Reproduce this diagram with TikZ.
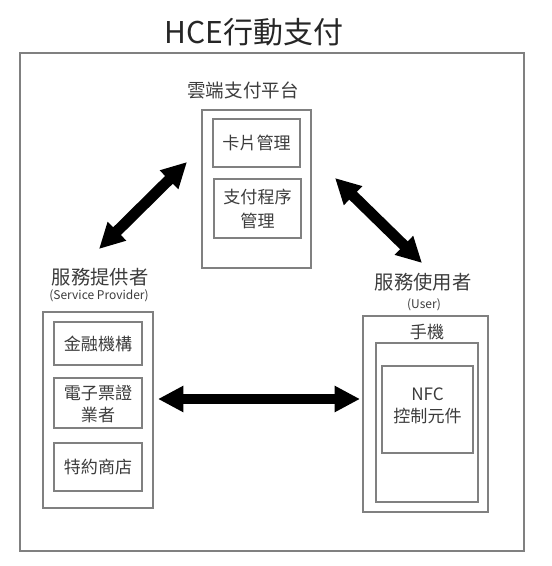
\documentclass[tikz,border=0pt]{standalone}
\usepackage{fontspec}
\setmainfont{Noto Sans CJK TC}
\usepackage{xcolor}
\usetikzlibrary{arrows.meta}

\definecolor{boxgray}{RGB}{128,128,128}
\definecolor{txtgray}{RGB}{60,60,60}

\tikzset{
  box/.style={draw=boxgray, line width=1.1pt},
  frame/.style={draw=boxgray, line width=1.5pt},
  lbl/.style={text=txtgray, align=center, inner sep=0pt, font=\fontsize{14.5}{17}\selectfont},
  sublbl/.style={text=txtgray, align=center, inner sep=0pt, font=\fontsize{9}{11}\selectfont},
  itm/.style={text=txtgray, align=center, inner sep=0pt, font=\fontsize{12.8}{17}\selectfont},
  bigarrow/.style={line width=8.2pt, {Triangle[length=19pt,width=18.5pt]}-{Triangle[length=19pt,width=18.5pt]}}
}

\begin{document}
\begin{tikzpicture}[x=0.75pt,y=0.75pt,yscale=-1,xscale=1]
\useasboundingbox (0,0) rectangle (551,566);

%Shape: Rectangle [frame]
\draw [frame] (20,53) -- (524,53) -- (524,551) -- (20,551) -- cycle ;
%Shape: Rectangle [cloud]
\draw [box] (202,110) -- (311,110) -- (311,268) -- (202,268) -- cycle ;
%Shape: Rectangle [card]
\draw [box] (213,119) -- (300,119) -- (300,167) -- (213,167) -- cycle ;
%Shape: Rectangle [payapp]
\draw [box] (214,179) -- (301,179) -- (301,238) -- (214,238) -- cycle ;
%Shape: Rectangle [provider]
\draw [box] (43,312) -- (153,312) -- (153,508) -- (43,508) -- cycle ;
%Shape: Rectangle [bank]
\draw [box] (54,322) -- (142,322) -- (142,365) -- (54,365) -- cycle ;
%Shape: Rectangle [ticket]
\draw [box] (54,378) -- (142,378) -- (142,428) -- (54,428) -- cycle ;
%Shape: Rectangle [shop]
\draw [box] (54,443) -- (142,443) -- (142,491) -- (54,491) -- cycle ;
%Shape: Rectangle [user]
\draw [box] (363,316) -- (488,316) -- (488,512) -- (363,512) -- cycle ;
%Shape: Rectangle [phone]
\draw [box] (376,343) -- (478,343) -- (478,502) -- (376,502) -- cycle ;
%Shape: Rectangle [nfc]
\draw [box] (382,366) -- (473,366) -- (473,453) -- (382,453) -- cycle ;

%Arrow ends
\coordinate (pa) at (99,249) ;
\coordinate (pb) at (187,162) ;
\coordinate (ua) at (335,178) ;
\coordinate (ub) at (422,263) ;
\coordinate (ha) at (158,399) ;
\coordinate (hb) at (360,399) ;

%Straight Lines [arrows]
\draw [bigarrow] (pa) -- (pb) ;
\draw [bigarrow] (ua) -- (ub) ;
\draw [bigarrow] (ha) -- (hb) ;

% Text Node
\draw (254,32) node (title) [inner sep=0pt, text=black!85, font=\fontsize{22.5}{26}\selectfont] {HCE行動支付};
% Text Node
\draw (243,90) node (cloudlbl) [lbl, font=\fontsize{13.9}{17}\selectfont] {雲端支付平台};
% Text Node
\draw (256.5,143) node (cardlbl) [itm] {卡片管理};
% Text Node
\draw (257.5,209) node (paylbl) [itm, font=\fontsize{12.8}{18}\selectfont] {支付程序\\管理};
% Text Node
\draw (100,277) node (provlbl) [lbl] {服務提供者};
% Text Node
\draw (99,296) node (provsub) [sublbl] {(Service Provider)};
% Text Node
\draw (98,343.5) node (banklbl) [itm] {金融機構};
% Text Node
\draw (98,404) node (ticketlbl) [itm, font=\fontsize{12.8}{16}\selectfont] {電子票證\\業者};
% Text Node
\draw (98,467) node (shoplbl) [itm] {特約商店};
% Text Node
\draw (423,282) node (userlbl) [lbl] {服務使用者};
% Text Node
\draw (424,305) node (usersub) [sublbl] {(User)};
% Text Node
\draw (427,332) node (phonelbl) [itm] {手機};
% Text Node
\draw (427.5,406) node (nfclbl) [itm, font=\fontsize{12.8}{16.5}\selectfont] {NFC\\控制元件};

\end{tikzpicture}
\end{document}
